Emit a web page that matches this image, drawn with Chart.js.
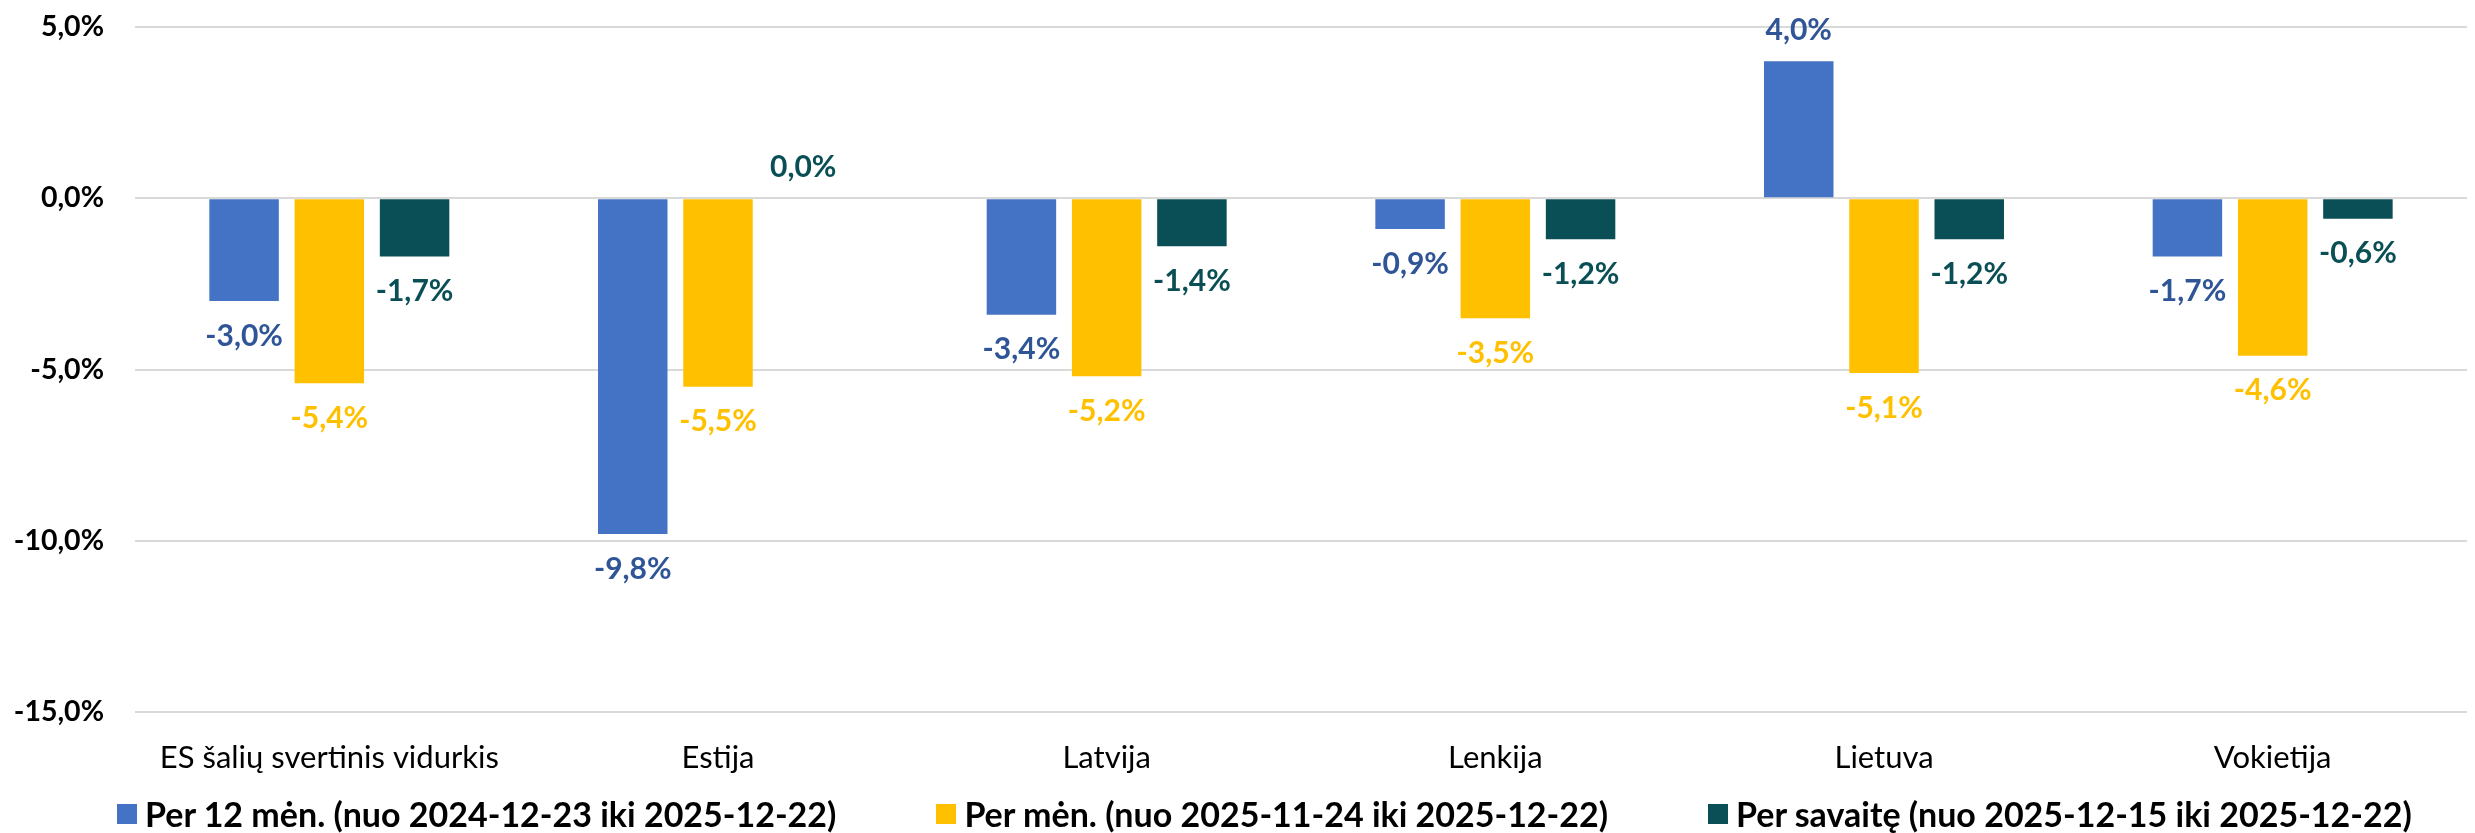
<!DOCTYPE html>
<html>
<head>
<meta charset="utf-8">
<script src="https://cdn.jsdelivr.net/npm/chart.js@4.4.1/dist/chart.umd.min.js"></script>
<style>
html,body{margin:0;padding:0;background:#fff;}
#wrap{position:relative;width:2475px;height:833px;overflow:hidden;}
#c{position:absolute;left:0;top:0;}
#legend{position:absolute;left:117px;top:794px;display:flex;gap:100px;font-family:Lato,"Liberation Sans",sans-serif;font-weight:bold;font-size:34px;color:#000;white-space:nowrap;line-height:40px;}
#legend .item{display:flex;align-items:center;}
#legend .box{width:20px;height:20px;margin-right:8px;display:inline-block;}
</style>
</head>
<body>
<div id="wrap">
<canvas id="c" width="2475" height="833"></canvas>
<div id="legend"></div>
</div>
<script>
const categories = ["ES šalių svertinis vidurkis", "Estija", "Latvija", "Lenkija", "Lietuva", "Vokietija"];
const seriesNames = [
  "Per 12 mėn. (nuo 2024-12-23 iki 2025-12-22)",
  "Per mėn. (nuo 2025-11-24 iki 2025-12-22)",
  "Per savaitę (nuo 2025-12-15 iki 2025-12-22)"
];
const per12Months = [-3.0, -9.8, -3.4, -0.9, 4.0, -1.7];
const perMonth    = [-5.4, -5.5, -5.2, -3.5, -5.1, -4.6];
const perWeek     = [-1.7, 0.0, -1.4, -1.2, -1.2, -0.6];
const yTickValues = [-15, -10, -5, 0, 5];

const barColors   = ["#4472C4", "#FFC000", "#0A4F55"];
const labelColors = ["#2F5597", "#FFC000", "#0A4F55"];
const seriesValues = [per12Months, perMonth, perWeek];

function fmt(v){ return v.toFixed(1).replace('.', ',') + '%'; }

const FONT = 'Lato, "Liberation Sans", sans-serif';

const valueLabels = {
  id: 'valueLabels',
  afterDatasetsDraw(chart) {
    const ctx = chart.ctx;
    ctx.save();
    ctx.font = 'bold 30px ' + FONT;
    ctx.textAlign = 'center';
    ctx.textBaseline = 'middle';
    chart.data.datasets.forEach((ds, di) => {
      const meta = chart.getDatasetMeta(di);
      ctx.fillStyle = labelColors[di];
      meta.data.forEach((bar, i) => {
        const v = ds.data[i];
        const y = v < 0 ? bar.y + 35 : bar.y - 31;
        ctx.fillText(fmt(v), bar.x, y);
      });
    });
    ctx.restore();
  }
};

const chart = new Chart(document.getElementById('c'), {
  type: 'bar',
  data: {
    labels: categories,
    datasets: seriesValues.map((vals, i) => ({
      label: seriesNames[i],
      data: vals,
      backgroundColor: barColors[i],
      borderWidth: 0,
      categoryPercentage: 0.658,
      barPercentage: 0.815
    }))
  },
  options: {
    responsive: false,
    animation: false,
    layout: { padding: { top: 27, left: 0, right: 8, bottom: 0 } },
    plugins: { legend: { display: false }, tooltip: { enabled: false } },
    scales: {
      x: {
        grid: { display: false, drawTicks: false },
        border: { display: false },
        ticks: { color: '#000', font: { family: FONT, size: 31 }, padding: 27, maxRotation: 0, autoSkip: false },
        afterFit(s) { s.height = 121; }
      },
      y: {
        min: -15, max: 5,
        afterBuildTicks(s) { s.ticks = yTickValues.map(v => ({ value: v })); },
        grid: { color: '#D9D9D9', lineWidth: 2, drawTicks: true, tickLength: 31, tickColor: 'rgba(0,0,0,0)' },
        border: { display: false },
        ticks: { color: '#000', font: { family: FONT, size: 28.5, weight: 'bold' }, padding: 0, callback: v => fmt(v) },
        afterFit(s) { s.width = 135; }
      }
    }
  },
  plugins: [valueLabels]
});

const legend = document.getElementById('legend');
seriesNames.forEach((name, i) => {
  const item = document.createElement('div');
  item.className = 'item';
  const box = document.createElement('span');
  box.className = 'box';
  box.style.background = barColors[i];
  const txt = document.createElement('span');
  txt.textContent = name;
  item.appendChild(box);
  item.appendChild(txt);
  legend.appendChild(item);
});
</script>
</body>
</html>
